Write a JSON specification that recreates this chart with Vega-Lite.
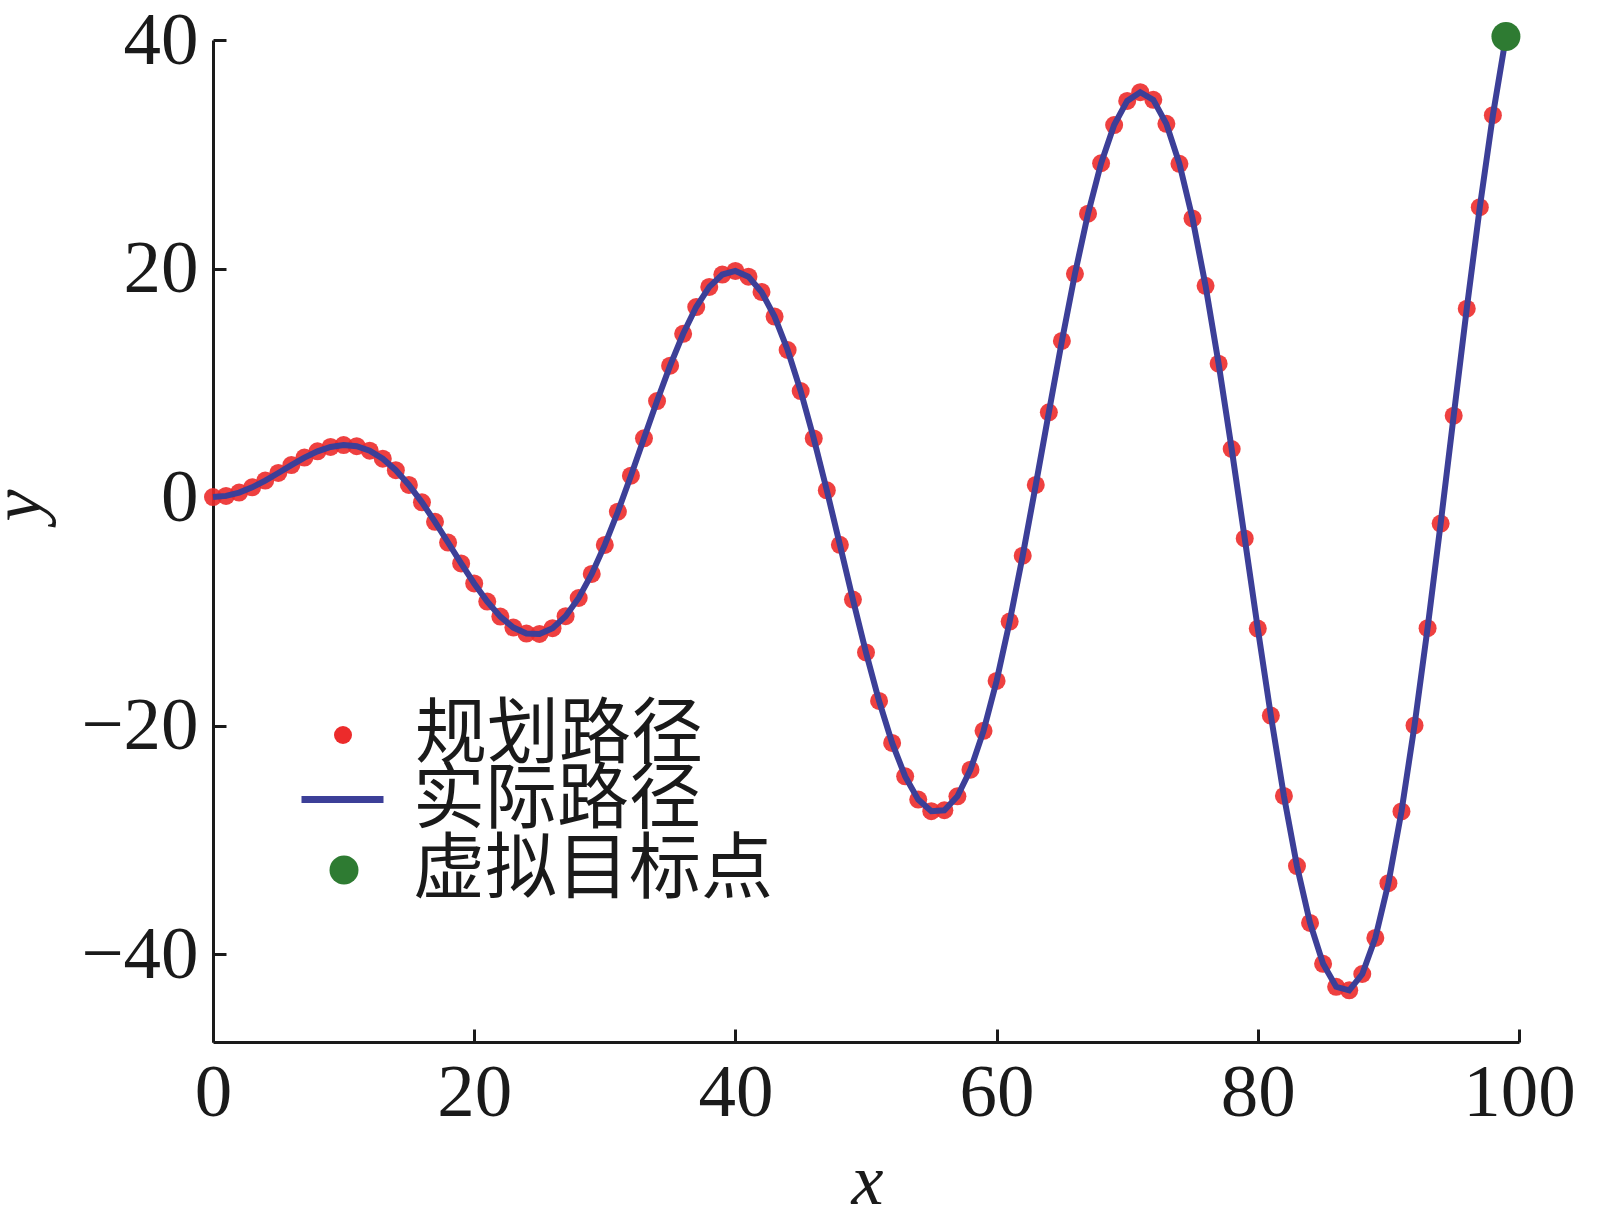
{
  "$schema": "https://vega.github.io/schema/vega-lite/v6.json",
  "autosize": {"type": "none"},
  "padding": {"left": 213, "top": 40, "right": 92, "bottom": 181},
  "width": 1306,
  "height": 1002,
  "background": "white",
  "config": {
    "view": {"stroke": null},
    "legend": {"padding": 0, "labelLimit": 0, "labelFont": "Noto Sans CJK SC", "labelFontSize": 72, "labelColor": "#1a1a1a", "rowPadding": 0},
    "axis": {
      "grid": false,
      "domainColor": "#1a1a1a",
      "domainWidth": 3,
      "tickColor": "#1a1a1a",
      "tickWidth": 3,
      "tickSize": -13,
      "labelFlush": false,
      "labelOverlap": false,
      "labelFont": "Liberation Serif",
      "labelFontSize": 75,
      "labelColor": "#1a1a1a",
      "titleFont": "Liberation Serif",
      "titleFontSize": 72,
      "titleFontStyle": "italic",
      "titleFontWeight": "normal",
      "titleColor": "#1a1a1a"
    }
  },
  "datasets": {
    "path": [
      {"x": 0, "y": 0}, {"x": 1, "y": 0.099}, {"x": 2, "y": 0.389}, {"x": 3, "y": 0.847}, {"x": 4, "y": 1.435},
      {"x": 5, "y": 2.104}, {"x": 6, "y": 2.796}, {"x": 7, "y": 3.449}, {"x": 8, "y": 3.998}, {"x": 9, "y": 4.382},
      {"x": 10, "y": 4.546}, {"x": 11, "y": 4.447}, {"x": 12, "y": 4.053}, {"x": 13, "y": 3.351}, {"x": 14, "y": 2.345},
      {"x": 15, "y": 1.058}, {"x": 16, "y": -0.467}, {"x": 17, "y": -2.172}, {"x": 18, "y": -3.983}, {"x": 19, "y": -5.813},
      {"x": 20, "y": -7.568}, {"x": 21, "y": -9.152}, {"x": 22, "y": -10.468}, {"x": 23, "y": -11.427}, {"x": 24, "y": -11.954},
      {"x": 25, "y": -11.987}, {"x": 26, "y": -11.485}, {"x": 27, "y": -10.432}, {"x": 28, "y": -8.838}, {"x": 29, "y": -6.737},
      {"x": 30, "y": -4.191}, {"x": 31, "y": -1.288}, {"x": 32, "y": 1.865}, {"x": 33, "y": 5.14}, {"x": 34, "y": 8.4},
      {"x": 35, "y": 11.497}, {"x": 36, "y": 14.286}, {"x": 37, "y": 16.626}, {"x": 38, "y": 18.39}, {"x": 39, "y": 19.472},
      {"x": 40, "y": 19.787}, {"x": 41, "y": 19.285}, {"x": 42, "y": 17.947}, {"x": 43, "y": 15.79}, {"x": 44, "y": 12.868},
      {"x": 45, "y": 9.273}, {"x": 46, "y": 5.126}, {"x": 47, "y": 0.582}, {"x": 48, "y": -4.184}, {"x": 49, "y": -8.979},
      {"x": 50, "y": -13.601}, {"x": 51, "y": -17.847}, {"x": 52, "y": -21.524}, {"x": 53, "y": -24.449}, {"x": 54, "y": -26.485},
      {"x": 55, "y": -27.5}, {"x": 56, "y": -27.417}, {"x": 57, "y": -26.201}, {"x": 58, "y": -23.862}, {"x": 59, "y": -20.467},
      {"x": 60, "y": -16.097}, {"x": 61, "y": -10.903}, {"x": 62, "y": -5.134}, {"x": 63, "y": 1.059}, {"x": 64, "y": 7.408},
      {"x": 65, "y": 13.656}, {"x": 66, "y": 19.538}, {"x": 67, "y": 24.803}, {"x": 68, "y": 29.212}, {"x": 69, "y": 32.558},
      {"x": 70, "y": 34.671}, {"x": 71, "y": 35.43}, {"x": 72, "y": 34.764}, {"x": 73, "y": 32.66}, {"x": 74, "y": 29.165},
      {"x": 75, "y": 24.386}, {"x": 76, "y": 18.483}, {"x": 77, "y": 11.67}, {"x": 78, "y": 4.202}, {"x": 79, "y": -3.63},
      {"x": 80, "y": -11.516}, {"x": 81, "y": -19.133}, {"x": 82, "y": -26.163}, {"x": 83, "y": -32.302}, {"x": 84, "y": -37.278},
      {"x": 85, "y": -40.86}, {"x": 86, "y": -42.867}, {"x": 87, "y": -43.181}, {"x": 88, "y": -41.749}, {"x": 89, "y": -38.59},
      {"x": 90, "y": -33.795}, {"x": 91, "y": -27.52}, {"x": 92, "y": -19.99}, {"x": 93, "y": -11.484}, {"x": 94, "y": -2.328},
      {"x": 95, "y": 7.119}, {"x": 96, "y": 16.479}, {"x": 97, "y": 25.369}, {"x": 98, "y": 33.416}, {"x": 99, "y": 40.277}
    ],
    "target": [{"x": 99, "y": 40.3}]
  },
  "encoding": {
    "x": {
      "field": "x", "type": "quantitative",
      "scale": {"domain": [0, 100], "nice": false, "zero": false},
      "axis": {"values": [0, 20, 40, 60, 80, 100], "labelPadding": 27, "title": "x",
               "titleX": 654, "titleY": 161, "titleBaseline": "alphabetic", "titleAlign": "center"}
    },
    "y": {
      "field": "y", "type": "quantitative",
      "scale": {"domain": [-47.7, 40], "nice": false, "zero": false},
      "axis": {"values": [-40, -20, 0, 20, 40], "labelPadding": 28, "title": "y",
               "titleX": -173, "titleY": 465, "titleBaseline": "alphabetic", "titleAlign": "center", "titleAngle": -90}
    }
  },
  "layer": [
    {
      "data": {"name": "path"},
      "mark": {"type": "point", "filled": true, "size": 324, "opacity": 0.9},
      "encoding": {
        "color": {
          "datum": "规划路径",
          "scale": {"domain": ["规划路径"], "range": ["#ec2b2b"]},
          "legend": {"orient": "none", "legendX": 94, "legendY": 659, "title": null, "symbolSize": 324, "labelOffset": 36, "symbolOpacity": 1}
        }
      }
    },
    {
      "data": {"name": "path"},
      "mark": {"type": "line", "strokeWidth": 6},
      "encoding": {
        "stroke": {
          "datum": "实际路径",
          "scale": {"domain": ["实际路径"], "range": ["#3c3f98"]},
          "legend": {"orient": "none", "legendX": 85, "legendY": 715, "title": null, "symbolType": "stroke", "symbolSize": 6724, "symbolStrokeWidth": 7, "labelOffset": 26}
        }
      }
    },
    {
      "data": {"name": "target"},
      "mark": {"type": "point", "filled": true, "size": 841, "opacity": 1},
      "encoding": {
        "fill": {
          "datum": "虚拟目标点",
          "scale": {"domain": ["虚拟目标点"], "range": ["#2e7b32"]},
          "legend": {"orient": "none", "legendX": 95, "legendY": 794, "title": null, "symbolSize": 841, "labelOffset": 33, "symbolOpacity": 1}
        }
      }
    }
  ]
}
